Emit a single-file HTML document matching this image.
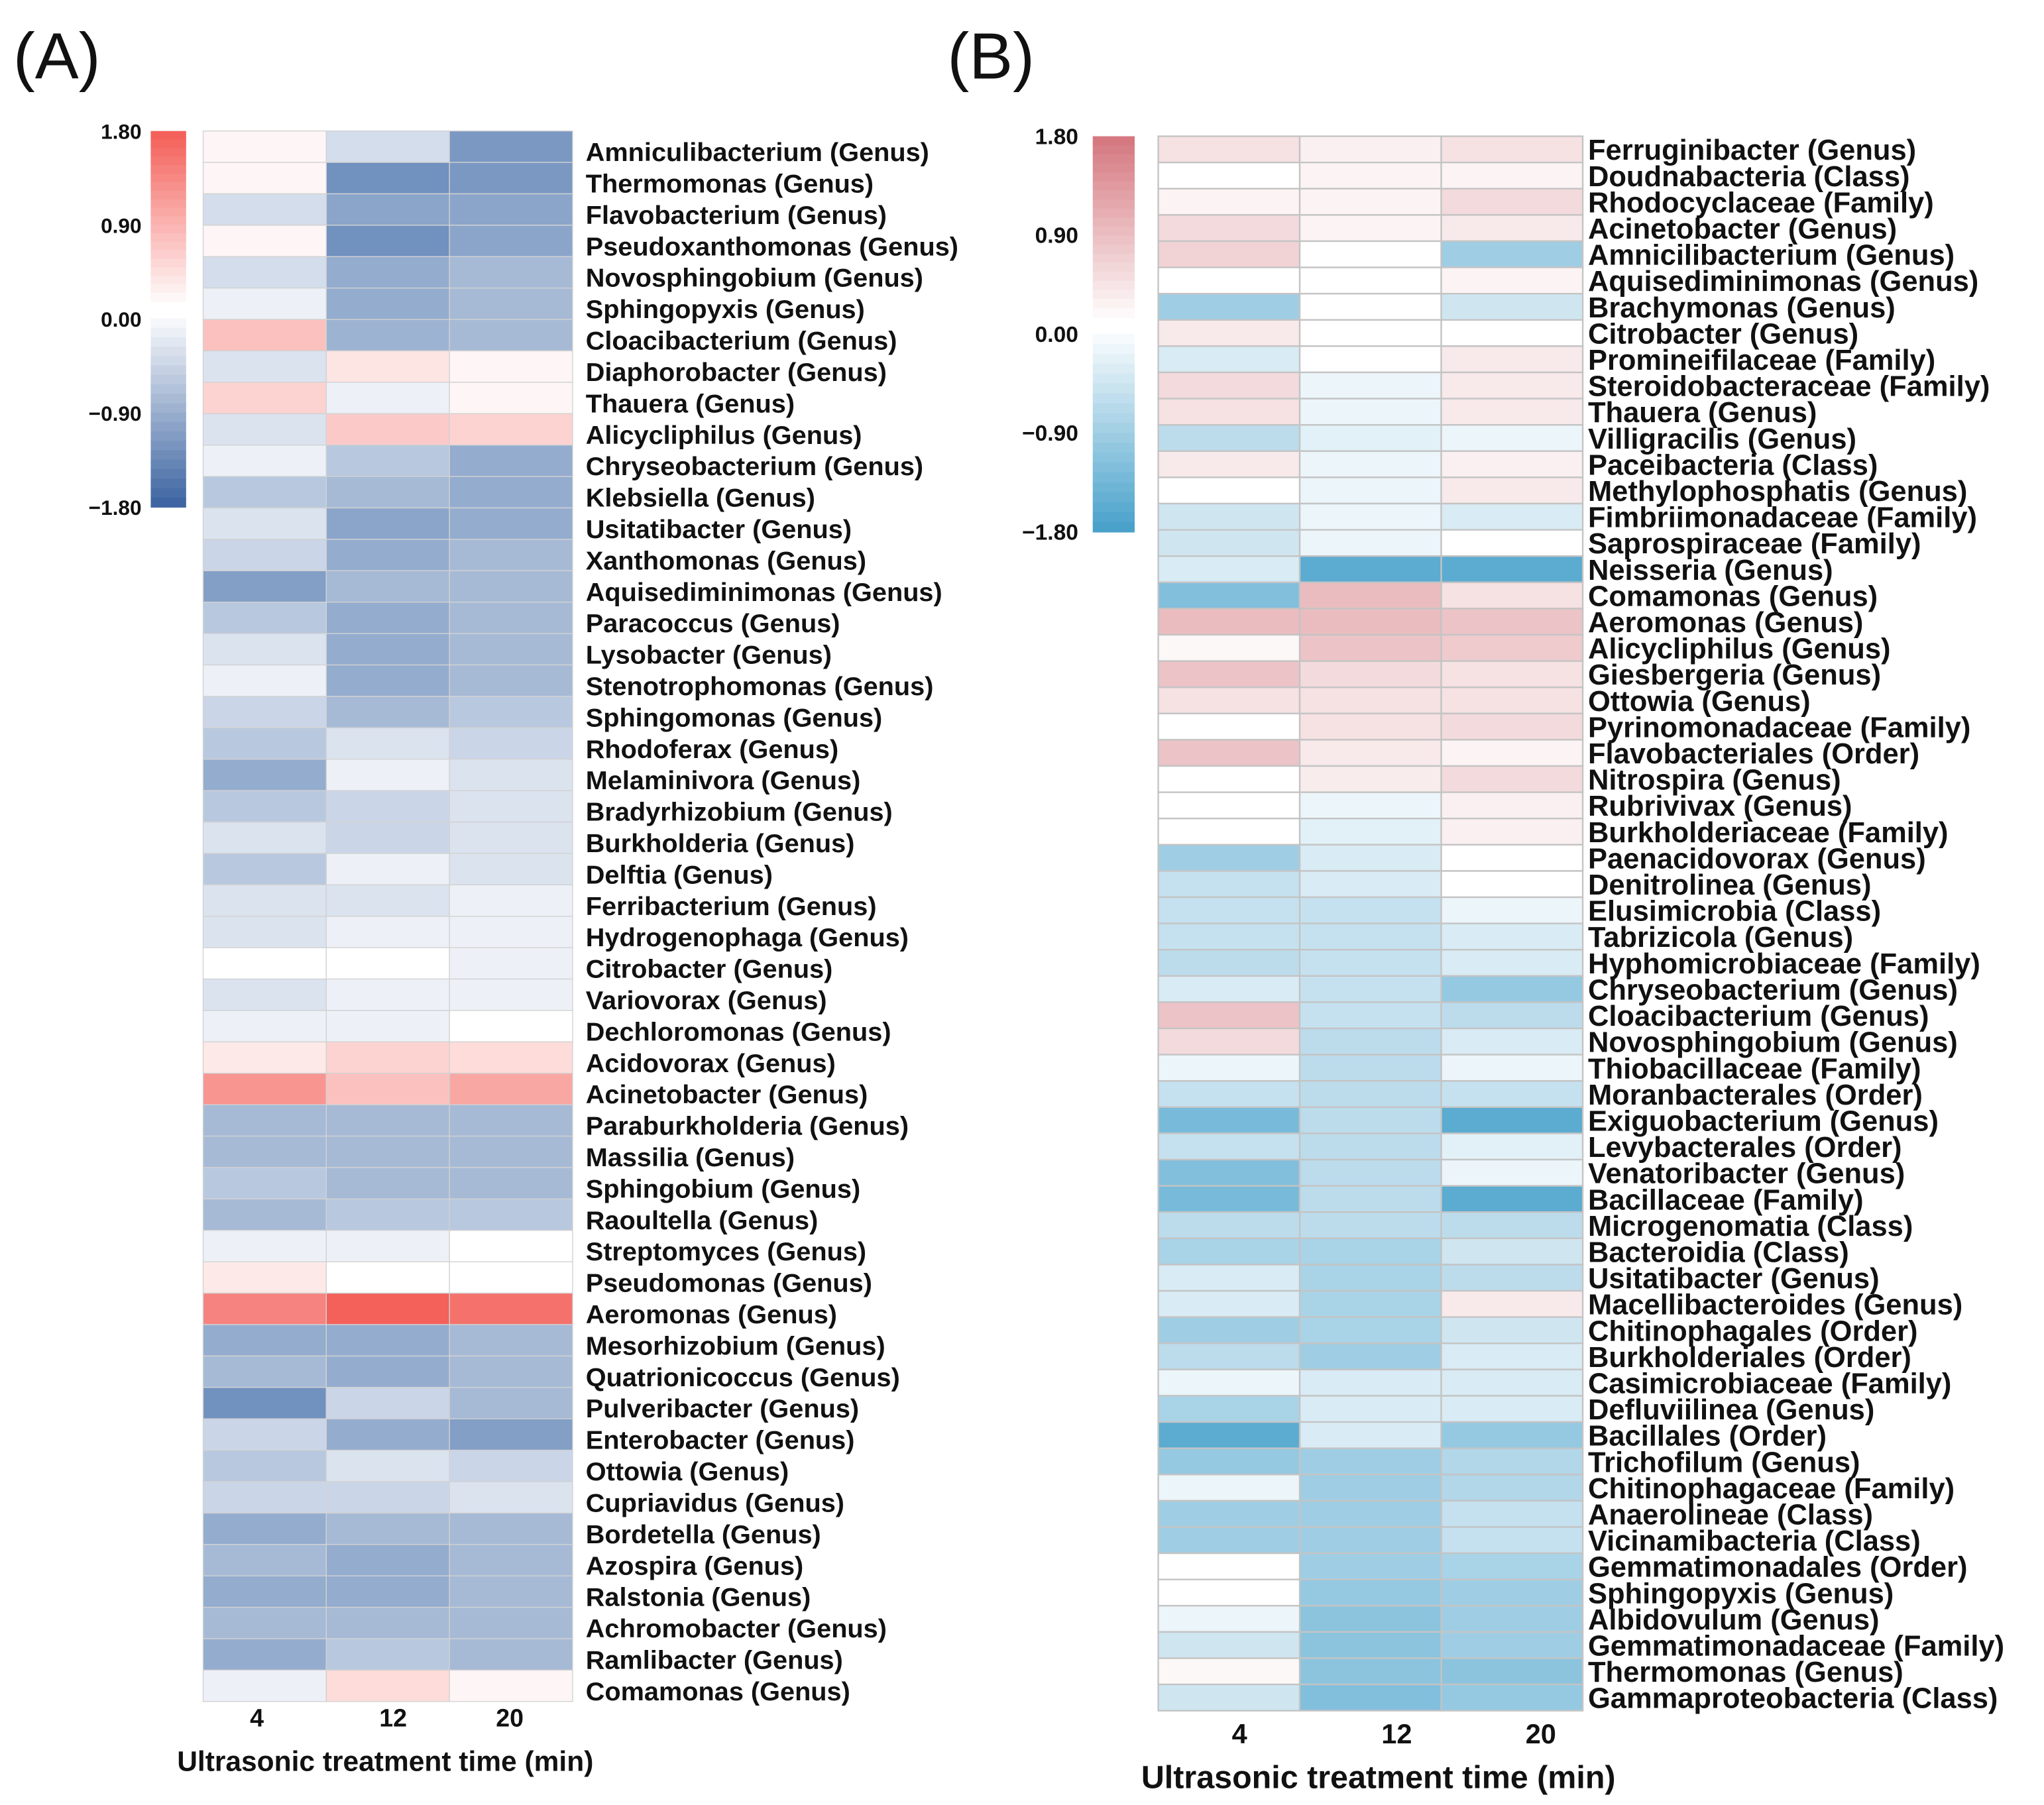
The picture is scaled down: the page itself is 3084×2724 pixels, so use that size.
<!DOCTYPE html>
<html><head><meta charset="utf-8">
<style>
html,body{margin:0;padding:0;background:#fff;}
svg{display:block;}
text{font-family:"Liberation Sans",Arial,sans-serif;font-weight:bold;fill:#111;}
</style></head>
<body>
<svg id="fig" width="3084" height="2724" viewBox="0 0 1560 1378" xmlns="http://www.w3.org/2000/svg">
<rect width="1560" height="1378" fill="#fff"/>
<text x="10" y="60" font-size="50" style="font-weight:normal">(A)</text>
<text x="723" y="60" font-size="50" style="font-weight:normal">(B)</text>
<g id="gA"></g>
<g id="gB"></g>
</svg>
<script>
const timeCats = ["4","12","20"];
const colorTicks = [1.8, 0.9, 0, -0.9, -1.8];
const colorTickLabels = ["1.80","0.90","0.00","\u22120.90","\u22121.80"];

const labelsA = ["Amniculibacterium (Genus)","Thermomonas (Genus)","Flavobacterium (Genus)","Pseudoxanthomonas (Genus)","Novosphingobium (Genus)","Sphingopyxis (Genus)","Cloacibacterium (Genus)","Diaphorobacter (Genus)","Thauera (Genus)","Alicycliphilus (Genus)","Chryseobacterium (Genus)","Klebsiella (Genus)","Usitatibacter (Genus)","Xanthomonas (Genus)","Aquisediminimonas (Genus)","Paracoccus (Genus)","Lysobacter (Genus)","Stenotrophomonas (Genus)","Sphingomonas (Genus)","Rhodoferax (Genus)","Melaminivora (Genus)","Bradyrhizobium (Genus)","Burkholderia (Genus)","Delftia (Genus)","Ferribacterium (Genus)","Hydrogenophaga (Genus)","Citrobacter (Genus)","Variovorax (Genus)","Dechloromonas (Genus)","Acidovorax (Genus)","Acinetobacter (Genus)","Paraburkholderia (Genus)","Massilia (Genus)","Sphingobium (Genus)","Raoultella (Genus)","Streptomyces (Genus)","Pseudomonas (Genus)","Aeromonas (Genus)","Mesorhizobium (Genus)","Quatrionicoccus (Genus)","Pulveribacter (Genus)","Enterobacter (Genus)","Ottowia (Genus)","Cupriavidus (Genus)","Bordetella (Genus)","Azospira (Genus)","Ralstonia (Genus)","Achromobacter (Genus)","Ramlibacter (Genus)","Comamonas (Genus)"];
const valsA4 = [0.1,0.1,-0.5,0.1,-0.5,-0.2,0.7,-0.4,0.5,-0.4,-0.2,-0.8,-0.4,-0.6,-1.4,-0.8,-0.4,-0.2,-0.6,-0.8,-1.2,-0.8,-0.4,-0.8,-0.4,-0.4,0,-0.4,-0.2,0.25,1.2,-1.0,-1.0,-0.8,-1.0,-0.2,0.25,1.4,-1.2,-1.0,-1.6,-0.6,-0.8,-0.6,-1.2,-1.0,-1.2,-1.0,-1.2,-0.2];
const valsA12 = [-0.5,-1.6,-1.3,-1.6,-1.2,-1.2,-1.1,0.3,-0.2,0.6,-0.8,-1.0,-1.3,-1.2,-1.0,-1.2,-1.2,-1.2,-1.0,-0.4,-0.2,-0.6,-0.6,-0.2,-0.4,-0.2,0,-0.2,-0.2,0.5,0.7,-1.0,-1.0,-1.0,-0.8,-0.2,0,1.8,-1.2,-1.2,-0.6,-1.2,-0.4,-0.6,-1.0,-1.2,-1.2,-1.0,-0.8,0.4];
const valsA20 = [-1.5,-1.5,-1.3,-1.3,-1.0,-1.0,-1.0,0.1,0.1,0.5,-1.2,-1.2,-1.2,-1.0,-1.0,-1.0,-1.0,-1.0,-0.8,-0.6,-0.4,-0.4,-0.4,-0.4,-0.2,-0.2,-0.2,-0.2,0,0.4,1.0,-1.0,-1.0,-1.0,-0.8,0,0,1.6,-1.0,-1.0,-1.0,-1.4,-0.6,-0.4,-1.0,-1.0,-1.0,-1.0,-1.0,0.1];

const labelsB = ["Ferruginibacter (Genus)","Doudnabacteria (Class)","Rhodocyclaceae (Family)","Acinetobacter (Genus)","Amnicilibacterium (Genus)","Aquisediminimonas (Genus)","Brachymonas (Genus)","Citrobacter (Genus)","Promineifilaceae (Family)","Steroidobacteraceae (Family)","Thauera (Genus)","Villigracilis (Genus)","Paceibacteria (Class)","Methylophosphatis (Genus)","Fimbriimonadaceae (Family)","Saprospiraceae (Family)","Neisseria (Genus)","Comamonas (Genus)","Aeromonas (Genus)","Alicycliphilus (Genus)","Giesbergeria (Genus)","Ottowia (Genus)","Pyrinomonadaceae (Family)","Flavobacteriales (Order)","Nitrospira (Genus)","Rubrivivax (Genus)","Burkholderiaceae (Family)","Paenacidovorax (Genus)","Denitrolinea (Genus)","Elusimicrobia (Class)","Tabrizicola (Genus)","Hyphomicrobiaceae (Family)","Chryseobacterium (Genus)","Cloacibacterium (Genus)","Novosphingobium (Genus)","Thiobacillaceae (Family)","Moranbacterales (Order)","Exiguobacterium (Genus)","Levybacterales (Order)","Venatoribacter (Genus)","Bacillaceae (Family)","Microgenomatia (Class)","Bacteroidia (Class)","Usitatibacter (Genus)","Macellibacteroides (Genus)","Chitinophagales (Order)","Burkholderiales (Order)","Casimicrobiaceae (Family)","Defluviilinea (Genus)","Bacillales (Order)","Trichofilum (Genus)","Chitinophagaceae (Family)","Anaerolineae (Class)","Vicinamibacteria (Class)","Gemmatimonadales (Order)","Sphingopyxis (Genus)","Albidovulum (Genus)","Gemmatimonadaceae (Family)","Thermomonas (Genus)","Gammaproteobacteria (Class)"];
const valsB4 = [0.4,0,0.15,0.5,0.6,0,-1.0,0.3,-0.4,0.5,0.4,-0.7,0.3,0,-0.5,-0.5,-0.4,-1.3,0.9,0.1,0.8,0.4,0,0.8,0,0,0,-1.0,-0.6,-0.6,-0.6,-0.7,-0.4,0.8,0.5,-0.2,-0.6,-1.4,-0.6,-1.3,-1.4,-0.7,-0.9,-0.4,-0.4,-1.0,-0.7,-0.2,-0.9,-1.7,-1.1,-0.2,-1.0,-1.0,0,0,-0.2,-0.5,0.1,-0.5];
const valsB12 = [0.2,0.15,0.15,0.15,0,0,0,0,0,-0.2,-0.2,-0.3,-0.2,-0.2,-0.2,-0.2,-1.7,0.9,0.9,0.8,0.5,0.4,0.4,0.3,0.25,-0.2,-0.3,-0.4,-0.4,-0.6,-0.6,-0.6,-0.6,-0.6,-0.7,-0.7,-0.7,-0.7,-0.7,-0.7,-0.7,-0.7,-0.9,-0.9,-0.9,-0.9,-1.0,-0.4,-0.4,-0.4,-1.0,-1.0,-1.0,-1.0,-1.0,-1.1,-1.2,-1.2,-1.2,-1.3];
const valsB20 = [0.4,0.15,0.5,0.3,-1.0,0.15,-0.5,0,0.3,0.3,0.3,-0.2,0.2,0.3,-0.4,0,-1.7,0.4,0.8,0.7,0.4,0.4,0.5,0.15,0.5,0.2,0.2,0,0,-0.2,-0.4,-0.4,-1.1,-0.7,-0.4,-0.2,-0.6,-1.7,-0.3,-0.2,-1.7,-0.7,-0.5,-0.7,0.3,-0.5,-0.4,-0.4,-0.4,-1.1,-0.8,-0.8,-0.6,-0.6,-0.9,-1.0,-1.0,-1.0,-1.2,-1.1];

const NS = "http://www.w3.org/2000/svg";
function mk(tag, attrs, parent){const e=document.createElementNS(NS,tag);for(const k in attrs)e.setAttribute(k,attrs[k]);parent.appendChild(e);return e;}
function hex(c){return [parseInt(c.slice(1,3),16),parseInt(c.slice(3,5),16),parseInt(c.slice(5,7),16)];}
function lerp(a,b,t){const A=hex(a),B=hex(b);return "rgb("+A.map((v,i)=>Math.round(v+(B[i]-v)*t)).join(",")+")";}
function colorFn(redEnd, blueEnd, blueCell){
  return (v,isBar)=>{const t=Math.min(1,Math.abs(v)/1.8);return v>=0?lerp("#ffffff",redEnd,t):lerp("#ffffff",isBar?blueEnd:blueCell,t);};
}

function drawHeat(g, cfg, labels, cols){
  const col = colorFn(cfg.red, cfg.blue, cfg.blueCell);
  const n = labels.length, rh = (cfg.y1-cfg.y0)/n, cw=(cfg.x1-cfg.x0)/3;
  const xs = c=>cfg.x0+c*cw, ys = r=>cfg.y0+r*rh;
  const steps=20;
  for(let i=0;i<steps;i++){
    const v=1.8-1.8*(i/steps);
    const y=cfg.cbTop+(cfg.cbZeroTop-cfg.cbTop)*i/steps;
    const r=mk("rect",{x:cfg.cbx,y:y,width:cfg.cbw,height:(cfg.cbZeroTop-cfg.cbTop)/steps+0.5,fill:col(v,true)},g);
    
    
  }
  for(let i=0;i<steps;i++){
    const v=-1.8*((i+1)/steps);
    const y=cfg.cbZeroBot+(cfg.cbBot-cfg.cbZeroBot)*i/steps;
    const r=mk("rect",{x:cfg.cbx,y:y,width:cfg.cbw,height:(cfg.cbBot-cfg.cbZeroBot)/steps+0.5,fill:col(v,true)},g);
    
    
  }
  colorTicks.forEach((t,i)=>{
    const y=cfg.cbTop+(1.8-t)/3.6*(cfg.cbBot-cfg.cbTop);
    const tx=mk("text",{x:cfg.cbLabX,y:y+6,"font-size":cfg.tickFs,"text-anchor":"end"},g);
    tx.textContent=colorTickLabels[i];
    
    
  });
  for(let r=0;r<n;r++){
    for(let c=0;c<3;c++){
      const cell=mk("rect",{x:xs(c),y:ys(r),width:cw,height:rh,fill:col(cols[c][r],false),stroke:cfg.grid,"stroke-width":cfg.gw},g);
      
      
    }
    const lab=mk("text",{x:0,y:0,"font-size":cfg.fs,transform:"translate("+cfg.labX+","+(ys(r)+rh/2+cfg.labOff)+") scale("+cfg.sx+",1)"},g);
    lab.textContent=labels[r];
    
    
  }
  timeCats.forEach((t,c)=>{
    const tx=mk("text",{x:xs(c)+cw/2+cfg.xtOff[c],y:cfg.xtY,"font-size":cfg.xtFs,"text-anchor":"middle"},g);
    tx.textContent=t;
    
    
  });
  const ti=mk("text",{x:cfg.titleX,y:cfg.titleY,"font-size":cfg.titleFs,"text-anchor":"middle"},g);
  ti.textContent="Ultrasonic treatment time (min)";
  
  
}

drawHeat(document.getElementById("gA"),{
  x0:155,x1:437,y0:100,y1:1299,red:"#f4605a",blue:"#3f66a2",blueCell:"#5f83b6",grid:"#d2d2d2",gw:0.7,
  cbx:115,cbw:27,cbTop:100,cbZeroTop:230,cbZeroBot:243,cbBot:387,cbLabX:108,tickFs:16,
  labX:447,labOff:11,fs:19.5,sx:1.03,xtY:1318,xtFs:19,xtOff:[-6,4,-1],titleX:294,titleY:1352,titleFs:21.5
},labelsA,[valsA4,valsA12,valsA20]);

drawHeat(document.getElementById("gB"),{
  x0:884,x1:1208,y0:104,y1:1306,red:"#d57880",blue:"#4aa2cb",blueCell:"#52a6ce",grid:"#c4c4c4",gw:1.2,
  cbx:834,cbw:32,cbTop:104,cbZeroTop:242,cbZeroBot:255,cbBot:406,cbLabX:823,tickFs:17,
  labX:1212,labOff:8,fs:22,sx:1.0,xtY:1331,xtFs:21,xtOff:[8,20,22],titleX:1052,titleY:1365,titleFs:24.5
},labelsB,[valsB4,valsB12,valsB20]);
</script>
</body></html>
